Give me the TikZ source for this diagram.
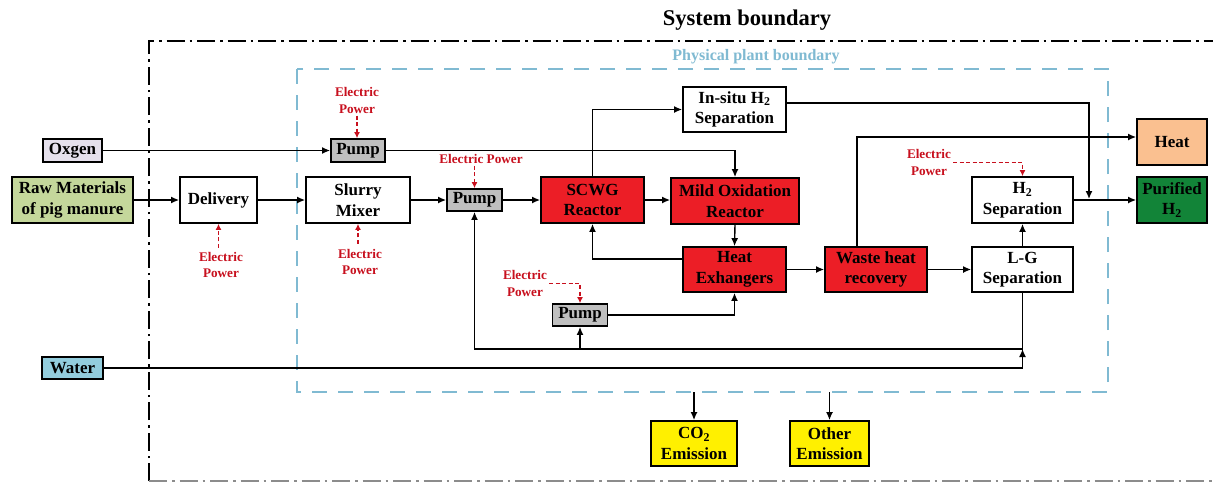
\documentclass[tikz,border=0pt]{standalone}
\usepackage{fontspec}
\setmainfont{Liberation Serif}
\usetikzlibrary{arrows.meta,calc}

\definecolor{reactred}{RGB}{236,30,38}
\definecolor{pumpgray}{RGB}{191,191,191}
\definecolor{oxfill}{RGB}{229,224,236}
\definecolor{rawfill}{RGB}{196,215,155}
\definecolor{waterfill}{RGB}{147,205,221}
\definecolor{heatfill}{RGB}{250,192,144}
\definecolor{h2fill}{RGB}{18,132,56}
\definecolor{emitfill}{RGB}{255,240,0}
\definecolor{plantblue}{RGB}{128,186,210}
\definecolor{powerred}{RGB}{200,16,30}

\newcommand\bxfont{\bfseries\fontsize{17}{20.5}\selectfont}
\newcommand\epfont{\bfseries\fontsize{13.2}{16.5}\selectfont}

\tikzset{
  blk/.style={draw=black, line width=1.8pt, align=center, font=\bxfont, inner sep=0pt},
  wbox/.style={blk, fill=white},
  rbox/.style={blk, fill=reactred},
  pumpbox/.style={blk, fill=pumpgray, minimum width=55pt, minimum height=22pt},
  power/.style={align=center, font=\epfont, text=powerred, inner sep=0pt},
  flow/.style={draw=black, line width=1.4pt, -{Latex[length=8pt,width=7pt]}},
  pflow/.style={draw=powerred, line width=1.1pt, dash pattern=on 4pt off 2.5pt, -{Latex[length=6pt,width=6pt]}},
}

\begin{document}
\begin{tikzpicture}[x=1pt,y=-1pt]
\clip (0,0) rectangle (1213,483);
\fill[white] (0,0) rectangle (1213,483);

% system boundary (dash-dot) and physical plant boundary (dashed)
\draw[black, line width=2.6pt, dash pattern=on 18pt off 5pt on 2.5pt off 5pt]
  (149,481) -- (149,41) -- (1240,41);
\draw[black!45, line width=2pt, dash pattern=on 18pt off 5pt on 2.5pt off 5pt]
  (149,481) -- (1240,481);
\node[font=\bfseries\fontsize{22.5}{26}\selectfont] (sysl) at (747,20) {System boundary};

\coordinate (pbtl) at (297,69);
\coordinate (pbbr) at (1108,392);
\draw[plantblue, line width=2.8pt, dash pattern=on 15pt off 11pt] (pbtl) rectangle (pbbr);
\node[font=\bfseries\fontsize{16}{19}\selectfont, text=plantblue] (plantl) at (756,57) {Physical plant boundary};

% inputs
\node[blk, fill=oxfill, minimum width=59pt, minimum height=23pt] (oxy) at (72.5,150.5) {Oxgen};
\node[blk, fill=rawfill, minimum width=121pt, minimum height=46pt] (raw) at (72.5,200) {Raw Materials\\of pig manure};
\node[blk, fill=waterfill, minimum width=61pt, minimum height=22pt] (water) at (72.5,368) {Water};

% process units
\node[wbox, minimum width=77pt, minimum height=46pt] (del) at (218.5,200) {Delivery};
\node[wbox, minimum width=104pt, minimum height=46pt] (slurry) at (358,200) {Slurry\\Mixer};
\node[pumpbox, minimum width=54pt, minimum height=23pt] (pumpa) at (358,150.5) {Pump};
\node[pumpbox] (pumpb) at (474.5,200) {Pump};
\node[pumpbox] (pumpc) at (580,315) {Pump};
\node[rbox, minimum width=103pt, minimum height=46pt] (scwg) at (592.5,200) {SCWG\\Reactor};
\node[rbox, minimum width=128pt, minimum height=46pt] (mild) at (735,201) {Mild Oxidation\\Reactor};
\node[wbox, minimum width=103pt, minimum height=45pt] (insitu) at (734.5,109.5) {In-situ H\textsubscript{2}\\Separation};
\node[rbox, minimum width=103pt, minimum height=45pt] (hex) at (734.5,269.5) {Heat\\Exhangers};
\node[rbox, minimum width=102pt, minimum height=45pt] (whr) at (876,269.5) {Waste heat\\recovery};
\node[wbox, minimum width=101pt, minimum height=45pt] (lg) at (1022.5,269.5) {L-G\\Separation};
\node[wbox, minimum width=101pt, minimum height=46pt] (h2sep) at (1022.5,200) {H\textsubscript{2}\\Separation};

% outputs
\node[blk, fill=heatfill, minimum width=70pt, minimum height=46pt] (heat) at (1172,142) {Heat};
\node[blk, fill=h2fill, minimum width=70pt, minimum height=46pt] (pure) at (1172,200) {Purified\\H\textsubscript{2}};
\node[blk, fill=emitfill, minimum width=86pt, minimum height=45pt] (co2) at (694,443.5) {CO\textsubscript{2}\\Emission};
\node[blk, fill=emitfill, minimum width=79pt, minimum height=45pt] (other) at (829.5,443.5) {Other\\Emission};

% electric power supplies
\node[power] (epa) at (357,100.5) {Electric\\Power};
\node[power] (epb) at (481,159) {Electric Power};
\node[power] (epc) at (525,283.5) {Electric\\Power};
\node[power] (epd) at (929,162.5) {Electric\\Power};
\node[power] (epdel) at (221,265) {Electric\\Power};
\node[power] (epsl) at (360,262) {Electric\\Power};

\draw[pflow] ($(epa.south)+(0,2)$) -- (epa.south |- pumpa.north);
\draw[pflow] ($(epb.south -| pumpb.north)+(0,2)$) -- (pumpb.north);
\draw[pflow] ($(epc.east)+(2,0)$) -| (pumpc.north);
\draw[pflow] ($(epd.east)+(2,0)$) -| (h2sep.north);
\draw[pflow] ($(epdel.north -| del.south)+(0,-4)$) -- (del.south);
\draw[pflow] ($(epsl.north -| slurry.south)+(0,-5)$) -- (slurry.south);

% main flows
\draw[flow] (oxy.east) -- (pumpa.west);
\draw[flow] (raw.east) -- (del.west);
\draw[flow] (del.east) -- (slurry.west);
\draw[flow] (slurry.east) -- (pumpb.west);
\draw[flow] (pumpb.east) -- (scwg.west);
\draw[flow] (pumpa.east) -| (mild.north);
\draw[flow] (scwg.north) |- (insitu.west);
\draw[flow] (scwg.east) -- (scwg.east -| mild.west);
\draw[flow] (mild.south) -- (hex.north);
\draw[flow] ($(hex.west)+(0,-10.5)$) -| (scwg.south);
\draw[flow] (hex.east) -- (whr.west);
\draw[flow] (whr.east) -- (lg.west);
\draw[flow] (lg.north) -- (h2sep.south);
\draw[flow] (h2sep.east) -- (pure.west);
\draw[flow] (pumpc.east) -| (hex.south);

\coordinate (wq) at ($(whr.north)+(-19,0)$);
\draw[flow] (wq) |- ($(heat.west)+(0,-5)$);

\coordinate (hj) at (1089,200);
\draw[flow] ($(insitu.east)+(0,-6.5)$) -| ($(hj)+(0,-1)$);

% recycle loop and water feed
\coordinate (rl) at (474.5,349);
\draw[flow] (lg.south) |- (rl) -- (pumpb.south);
\draw[flow] (pumpc.south |- rl) -- (pumpc.south);
\draw[flow] (water.east) -| (lg.south |- rl);

% emissions leaving the plant
\draw[flow] (co2.north |- pbbr) -- (co2.north);
\draw[flow] (other.north |- pbbr) -- (other.north);
\end{tikzpicture}
\end{document}
